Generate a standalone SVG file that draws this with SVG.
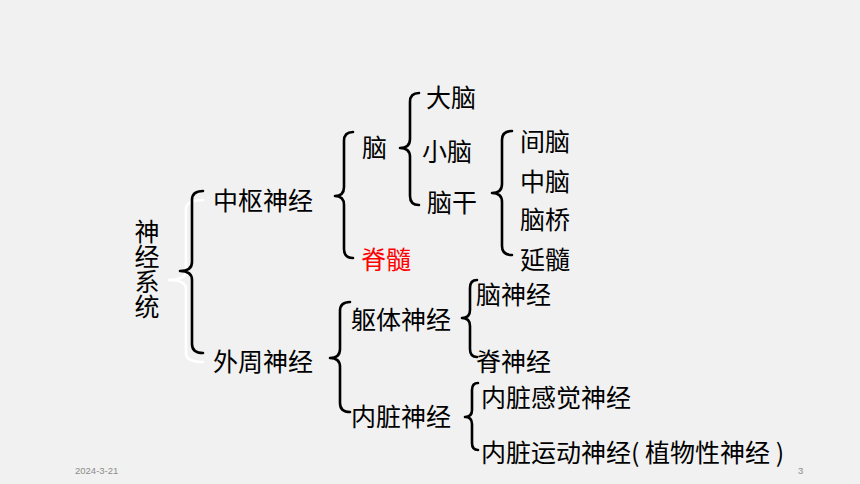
<svg xmlns="http://www.w3.org/2000/svg" width="860" height="484" viewBox="0 0 860 484">
<style>
.t{font-family:"Noto Sans CJK SC","Noto Sans",sans-serif;font-size:25px;fill:#000}
.v{writing-mode:vertical-rl;letter-spacing:0}
.red{fill:#ff0000}
.br{fill:none;stroke:#000;stroke-width:2.6;stroke-linecap:round;stroke-linejoin:round}
.sh{fill:none;stroke:#ffffff;stroke-width:2.6;stroke-linecap:round}
.foot{font-family:"Liberation Sans","DejaVu Sans",sans-serif;font-size:9.5px;fill:#8c8c8c}
</style>
<rect width="860" height="484" fill="#f1f1f1"/>
<g id="connectors">
<path class="sh" d="M203,200 Q186,200 186,209 L186,271 Q186,280 168,280 Q186,280 186,289 L186,353 Q186,362 203,362"/>
<path class="br" d="M203,191 Q192,191 192,200 L192,262 Q192,271 180,271 Q192,271 192,280 L192,344 Q192,353 203,353"/>
<path class="br" d="M353,132 Q344,132 344,141 L344,187 Q344,196 335,196 Q344,196 344,205 L344,249 Q344,258 353,258"/>
<path class="br" d="M419,93 Q410,93 410,102 L410,139 Q410,148 400,148 Q410,148 410,157 L410,196 Q410,205 419,205"/>
<path class="br" d="M512,131 Q502,131 502,140 L502,184 Q502,193 492,193 Q502,193 502,202 L502,246 Q502,255 512,255"/>
<path class="br" d="M350,302 Q340,302 340,311 L340,349 Q340,358 330,358 Q340,358 340,367 L340,403 Q340,412 350,412"/>
<path class="br" d="M477,280 Q470,280 470,288 L470,310 Q470,318 462,318 Q470,318 470,326 L470,349 Q470,357 477,357"/>
<path class="br" d="M478,383 Q472,383 472,390 L472,410 Q472,417 465,417 Q472,417 472,424 L472,443 Q472,450 478,450"/>
</g>
<g id="n-nervous-system"><text class="t v" x="147" y="219">神经系统</text></g>
<g id="n-central"><text class="t" x="213" y="210">中枢神经</text></g>
<g id="n-peripheral"><text class="t" x="213" y="371">外周神经</text></g>
<g id="n-brain"><text class="t" x="362" y="157">脑</text></g>
<g id="n-spinal-cord"><text class="t red" x="361" y="269">脊髓</text></g>
<g id="n-cerebrum"><text class="t" x="426" y="107">大脑</text></g>
<g id="n-cerebellum"><text class="t" x="422" y="161">小脑</text></g>
<g id="n-brainstem"><text class="t" x="427" y="212">脑干</text></g>
<g id="n-diencephalon"><text class="t" x="520" y="151">间脑</text></g>
<g id="n-midbrain"><text class="t" x="520" y="191">中脑</text></g>
<g id="n-pons"><text class="t" x="520" y="229">脑桥</text></g>
<g id="n-medulla"><text class="t" x="520" y="269">延髓</text></g>
<g id="n-somatic"><text class="t" x="351" y="329">躯体神经</text></g>
<g id="n-visceral"><text class="t" x="351" y="426">内脏神经</text></g>
<g id="n-cranial"><text class="t" x="476" y="304">脑神经</text></g>
<g id="n-spinal-nerve"><text class="t" x="476" y="371">脊神经</text></g>
<g id="n-visceral-sensory"><text class="t" x="481" y="407">内脏感觉神经</text></g>
<g id="n-visceral-motor"><text class="t" x="481" y="462">内脏运动神经( 植物性神经 )</text></g>
<text class="foot" x="75" y="474">2024-3-21</text>
<text class="foot" x="798" y="474">3</text>
</svg>
